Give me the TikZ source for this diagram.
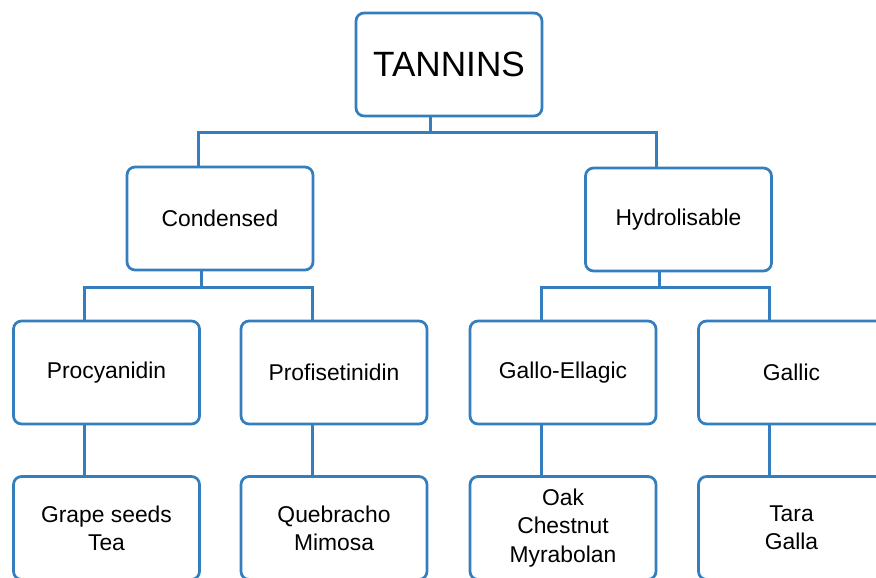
\documentclass[tikz,border=0pt]{standalone}
\usepackage{fontspec}
\setmainfont{Liberation Sans}
\usetikzlibrary{calc}

\definecolor{boxblue}{RGB}{52,126,189}

\tikzset{
  box/.style={draw=boxblue, line width=0.055cm, rounded corners=0.16cm, fill=white,
    minimum width=3.72cm, minimum height=2.06cm, inner sep=0pt, align=center,
    font=\fontsize{13}{16}\selectfont},
  link/.style={draw=boxblue, line width=0.055cm},
}

\begin{document}
\begin{tikzpicture}[x=0.02cm, y=-0.02cm]
    \clip (0,0) rectangle (876,578);

    % Root
    \node[box, font=\fontsize{20}{24}\selectfont] (tannins) at (449,64.5) {TANNINS};

    % Main classes
    \node[box] (condensed) at (220,218.5) {Condensed};
    \node[box] (hydro) at (678.5,219.5) {Hydrolisable};

    % Sub classes
    \node[box] (procy) at (106.5,372.5) {Procyanidin};
    \node[box] (profi) at (334,372.5) {Profisetinidin};
    \node[box] (gallo) at (563,372.5) {Gallo-Ellagic};
    \node[box] (gallic) at (791.5,372.5) {Gallic};

    % Sources
    \node[box] (grape) at (106.5,528) {Grape seeds\\Tea};
    \node[box] (quebr) at (334,528) {Quebracho\\Mimosa};
    \node[box] (oak) at (563,528) {Oak\\Chestnut\\Myrabolan};
    \node[box] (tara) at (791.5,528) {Tara\\Galla};

    % Connections
    \draw[link] ($(tannins.south west)!.4!(tannins.south east)$) -- ++(0,15)
      -| ($(condensed.north west)!.385!(condensed.north east)$);
    \draw[link] ($(tannins.south west)!.4!(tannins.south east)$) -- ++(0,15)
      -| ($(hydro.north west)!.385!(hydro.north east)$);
    \draw[link] ($(condensed.south west)!.4!(condensed.south east)$) -- ++(0,16)
      -| ($(procy.north west)!.385!(procy.north east)$);
    \draw[link] ($(condensed.south west)!.4!(condensed.south east)$) -- ++(0,16)
      -| ($(profi.north west)!.385!(profi.north east)$);
    \draw[link] ($(hydro.south west)!.4!(hydro.south east)$) -- ++(0,15)
      -| ($(gallo.north west)!.385!(gallo.north east)$);
    \draw[link] ($(hydro.south west)!.4!(hydro.south east)$) -- ++(0,15)
      -| ($(gallic.north west)!.385!(gallic.north east)$);
    \draw[link] ($(procy.south west)!.385!(procy.south east)$) -- ($(grape.north west)!.385!(grape.north east)$);
    \draw[link] ($(profi.south west)!.385!(profi.south east)$) -- ($(quebr.north west)!.385!(quebr.north east)$);
    \draw[link] ($(gallo.south west)!.385!(gallo.south east)$) -- ($(oak.north west)!.385!(oak.north east)$);
    \draw[link] ($(gallic.south west)!.385!(gallic.south east)$) -- ($(tara.north west)!.385!(tara.north east)$);
\end{tikzpicture}
\end{document}
